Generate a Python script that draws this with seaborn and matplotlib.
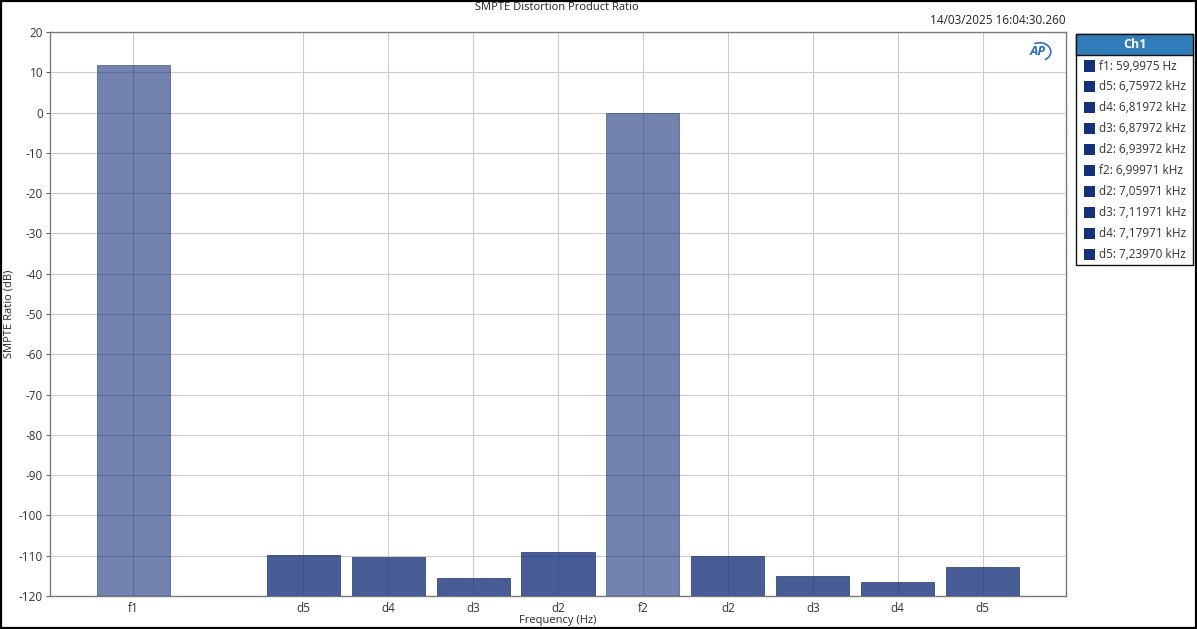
import numpy as np
import pandas as pd
import seaborn as sns
import matplotlib.pyplot as plt
from matplotlib.patches import Rectangle, Arc

# data
slots = ["f1", "gap", "d5a", "d4a", "d3a", "d2a", "f2", "d2b", "d3b", "d4b", "d5b"]
bar_ids = ["f1", "d5a", "d4a", "d3a", "d2a", "f2", "d2b", "d3b", "d4b", "d5b"]
bar_labels = ["f1", "d5", "d4", "d3", "d2", "f2", "d2", "d3", "d4", "d5"]
ratio_db = [11.9, -109.75, -110.25, -115.5, -109.0, 0.0, -110.0, -115.0, -116.5, -112.75]
legend_items = ["f1: 59,9975 Hz", "d5: 6,75972 kHz", "d4: 6,81972 kHz", "d3: 6,87972 kHz",
                "d2: 6,93972 kHz", "f2: 6,99971 kHz", "d2: 7,05971 kHz", "d3: 7,11971 kHz",
                "d4: 7,17971 kHz", "d5: 7,23970 kHz"]
y_floor = -120

df = pd.DataFrame({"slot": bar_ids, "label": bar_labels, "ratio": ratio_db})
df["kind"] = np.where(df["label"].str.startswith("f"), "fund", "dist")

sns.set_style("white")
plt.rcParams["font.family"] = ["Open Sans", "DejaVu Sans"]

fig = plt.figure(figsize=(11.97, 6.29), dpi=100)
ax = fig.add_axes([50 / 1197, 1 - 596 / 629, (1066 - 50) / 1197, (596 - 32) / 629])

navy = "#15307a"
sns.barplot(data=df, x="slot", y="ratio", hue="kind", order=slots,
            palette={"fund": navy, "dist": navy}, hue_order=["fund", "dist"],
            dodge=False, width=0.86, saturation=1, edgecolor="#1c2f66", linewidth=0.6,
            legend=False, ax=ax, zorder=3)

# bars hang from the bottom of the axis, not from 0
for p in ax.patches:
    top = p.get_y() + p.get_height()
    p.set_y(y_floor)
    p.set_height(top - y_floor)
    cx = p.get_x() + p.get_width() / 2
    is_fund = min(abs(cx - slots.index("f1")), abs(cx - slots.index("f2"))) < 0.3
    p.set_alpha(0.6 if is_fund else 0.78)

ax.set_ylim(-120, 20)
ax.set_xlim(-0.98, 10.98)
ax.set_yticks(np.arange(-120, 21, 10))
ax.set_yticklabels([str(v) for v in range(-120, 21, 10)])
pos = [slots.index(s) for s in bar_ids]
ax.set_xticks(pos)
ax.set_xticklabels(bar_labels)
ax.grid(True, color="#cccccc", linewidth=0.8, zorder=0)
ax.set_axisbelow(True)
for s in ax.spines.values():
    s.set_color("#7a7a7a")
    s.set_linewidth(1.0)
ax.tick_params(axis="both", labelsize=8.5, colors="#333333", length=3, width=0.6,
               pad=2, left=True, bottom=False)
ax.tick_params(axis="x", pad=1.5)
ax.set_xlabel("Frequency (Hz)", fontsize=8, labelpad=2)
ax.set_ylabel("SMPTE Ratio (dB)", fontsize=8, labelpad=3)
ax.xaxis.set_label_coords(0.5, -0.034)
ax.yaxis.set_label_coords(-0.035, 0.5)

fig.text(557 / 1197, 1 - 7 / 629, "SMPTE Distortion Product Ratio", ha="center", va="center",
         fontsize=8, color="#222222")
fig.text(1066 / 1197, 1 - 21 / 629, "14/03/2025 16:04:30.260", ha="right", va="center",
         fontsize=8.5, color="#222222")
ax.text(0.972, 0.965, "AP", transform=ax.transAxes, ha="center", va="center",
        fontsize=9.5, fontweight="bold", style="italic", color="#2e6fc0")
ax.add_patch(Arc((0.974, 0.965), 0.022, 0.032, angle=0, theta1=-70, theta2=110,
                 transform=ax.transAxes, color="#2e6fc0", linewidth=1.2))

# legend panel
def px(x, y):
    return x / 1197, 1 - y / 629

lx0, lx1, ly0, ly1 = 1076, 1193, 34, 265
fig.patches.append(Rectangle(px(lx0, ly1), (lx1 - lx0) / 1197, (ly1 - ly0) / 629,
                             transform=fig.transFigure, facecolor="white",
                             edgecolor="#111111", linewidth=1.0))
fig.patches.append(Rectangle(px(lx0, 55), (lx1 - lx0) / 1197, 21 / 629,
                             transform=fig.transFigure, facecolor="#2f7db8",
                             edgecolor="#111111", linewidth=1.0))
fig.text(*px((lx0 + lx1) / 2, 44.5), "Ch1", ha="center", va="center", fontsize=9,
         fontweight="bold", color="white")
for i, item in enumerate(legend_items):
    yc = 66 + 20.9 * i
    fig.patches.append(Rectangle(px(1084, yc + 5.5), 11 / 1197, 11 / 629,
                                 transform=fig.transFigure, facecolor=navy,
                                 edgecolor="none"))
    fig.text(*px(1099, yc), item, ha="left", va="center", fontsize=8.5, color="#333333")

# outer border
fig.patches.append(Rectangle((0.0005, 0.001), 0.999, 0.998, transform=fig.transFigure,
                             facecolor="none", edgecolor="black", linewidth=1.6))

fig.savefig("out.png", dpi=100)
